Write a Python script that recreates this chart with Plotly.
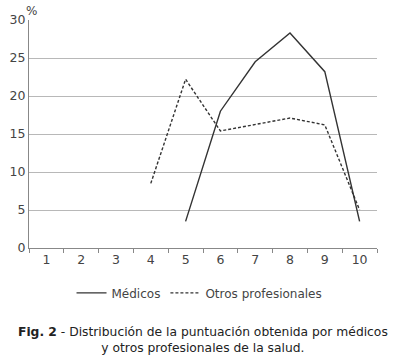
import plotly.graph_objects as go

categories = ["1", "2", "3", "4", "5", "6", "7", "8", "9", "10"]
medicos = [None, None, None, None, 3.5, 18.0, 24.5, 28.3, 23.2, 3.5]
otros = [None, None, None, 8.5, 22.2, 15.4, 16.3, 17.1, 16.2, 5.0]
y_ticks = [0, 5, 10, 15, 20, 25, 30]

FONT = "DejaVu Sans"
TXT = "#444444"
LINE = "#333333"

fig = go.Figure()
fig.add_trace(go.Scatter(x=categories, y=medicos, mode="lines", name="Médicos",
                         line=dict(color=LINE, width=1.4), connectgaps=False))
fig.add_trace(go.Scatter(x=categories, y=otros, mode="lines", name="Otros profesionales",
                         line=dict(color=LINE, width=1.4, dash="3px,2px"), connectgaps=False))

fig.update_layout(
    width=403, height=358,
    margin=dict(l=29, r=26, t=20, b=110, autoexpand=False),
    paper_bgcolor="white", plot_bgcolor="white",
    font=dict(family=FONT, size=12.5, color=TXT),
    showlegend=True,
    legend=dict(orientation="h", x=0.49, xanchor="center", y=-0.197, yanchor="middle",
                font=dict(size=12, color=TXT), itemwidth=30, tracegroupgap=0),
    xaxis=dict(type="category", range=[-0.5, 9.5], tickson="boundaries",
               ticks="outside", ticklen=4, tickcolor="#888888",
               showline=True, linecolor="#888888", linewidth=1, automargin=False,
               showgrid=False, fixedrange=True),
    yaxis=dict(range=[0, 30], tickvals=y_ticks, showline=True, linecolor="#888888",
               linewidth=1, showgrid=True, gridcolor="#b8b8b8", gridwidth=1, automargin=False,
               ticks="", zeroline=False, fixedrange=True),
    annotations=[
        dict(text="%", xref="paper", yref="paper", x=-0.015, y=1.0, xanchor="left",
             yanchor="bottom", showarrow=False, font=dict(size=12, color=TXT)),
        dict(text="<b>Fig. 2</b> - Distribución de la puntuación obtenida por médicos<br>y otros profesionales de la salud.",
             xref="paper", yref="paper", x=0.5, y=-0.33, xanchor="center", yanchor="top",
             showarrow=False, align="center", font=dict(size=12.3, color="#222222")),
    ],
)

fig.write_html("out.html", config={"displayModeBar": False},
               post_script="document.body.style.margin='0';document.body.style.overflow='hidden';")
